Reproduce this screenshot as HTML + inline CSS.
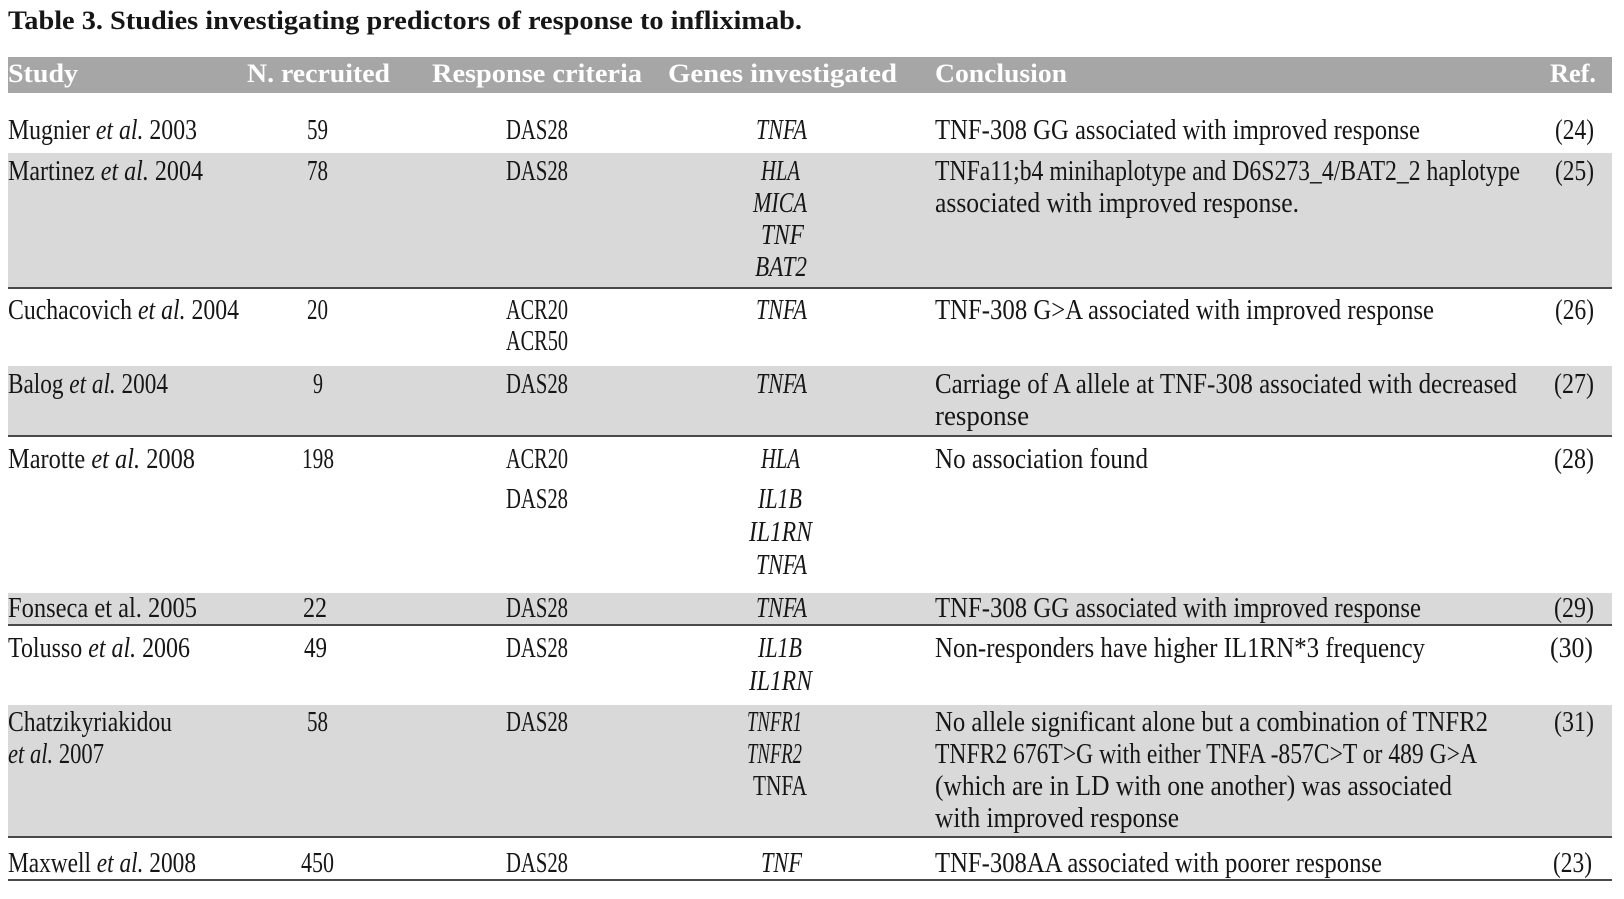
<!DOCTYPE html>
<html>
<head>
<meta charset="utf-8">
<style>
html,body{margin:0;padding:0;background:#fff;}
svg{display:block;}
text{font-family:"Liberation Serif",serif;font-size:28px;fill:#161616;}
.b{font-weight:bold;font-size:26px;}
.h{font-weight:bold;fill:#fff;font-size:26px;}
.i{font-style:italic;}
</style>
</head>
<body>
<svg width="1624" height="899" viewBox="0 0 1624 899" xmlns="http://www.w3.org/2000/svg">
<rect x="0" y="0" width="1624" height="899" fill="#fff"/>
<!-- Title -->
<text class="b" x="8" y="29" textLength="794" lengthAdjust="spacingAndGlyphs">Table 3. Studies investigating predictors of response to infliximab.</text>

<!-- Header bar -->
<rect x="8" y="57" width="1604" height="36" fill="#a6a6a6"/>
<text class="h" x="8" y="82" textLength="70" lengthAdjust="spacingAndGlyphs">Study</text>
<text class="h" x="247" y="82" textLength="143" lengthAdjust="spacingAndGlyphs">N. recruited</text>
<text class="h" x="432" y="82" textLength="210" lengthAdjust="spacingAndGlyphs">Response criteria</text>
<text class="h" x="668" y="82" textLength="229" lengthAdjust="spacingAndGlyphs">Genes investigated</text>
<text class="h" x="935" y="82" textLength="132" lengthAdjust="spacingAndGlyphs">Conclusion</text>
<text class="h" x="1550" y="82" textLength="46" lengthAdjust="spacingAndGlyphs">Ref.</text>

<!-- Bands -->
<rect x="8" y="153" width="1604" height="134" fill="#d9d9d9"/>
<rect x="8" y="366" width="1604" height="69" fill="#d9d9d9"/>
<rect x="8" y="593" width="1604" height="31" fill="#d9d9d9"/>
<rect x="8" y="705" width="1604" height="131" fill="#d9d9d9"/>

<!-- Lines -->
<rect x="8" y="287" width="1604" height="2" fill="#4a4a4a"/>
<rect x="8" y="435" width="1604" height="2" fill="#4a4a4a"/>
<rect x="8" y="624" width="1604" height="2" fill="#4a4a4a"/>
<rect x="8" y="836" width="1604" height="2" fill="#4a4a4a"/>
<rect x="8" y="879" width="1604" height="2" fill="#4a4a4a"/>

<!-- Row 1 -->
<text x="8" y="139" textLength="189" lengthAdjust="spacingAndGlyphs">Mugnier <tspan class="i">et al.</tspan> 2003</text>
<text x="307" y="139" textLength="21" lengthAdjust="spacingAndGlyphs">59</text>
<text x="506" y="139" textLength="62" lengthAdjust="spacingAndGlyphs">DAS28</text>
<text class="i" x="756" y="139" textLength="51" lengthAdjust="spacingAndGlyphs">TNFA</text>
<text x="935" y="139" textLength="485" lengthAdjust="spacingAndGlyphs">TNF-308 GG associated with improved response</text>
<text x="1555" y="139" textLength="39" lengthAdjust="spacingAndGlyphs">(24)</text>

<!-- Row 2 -->
<text x="8" y="180" textLength="195" lengthAdjust="spacingAndGlyphs">Martinez <tspan class="i">et al.</tspan> 2004</text>
<text x="307" y="180" textLength="21" lengthAdjust="spacingAndGlyphs">78</text>
<text x="506" y="180" textLength="62" lengthAdjust="spacingAndGlyphs">DAS28</text>
<text class="i" x="761" y="180" textLength="39" lengthAdjust="spacingAndGlyphs">HLA</text>
<text class="i" x="753" y="212" textLength="54" lengthAdjust="spacingAndGlyphs">MICA</text>
<text class="i" x="761" y="244" textLength="43" lengthAdjust="spacingAndGlyphs">TNF</text>
<text class="i" x="755" y="276" textLength="52" lengthAdjust="spacingAndGlyphs">BAT2</text>
<text x="935" y="180" textLength="585" lengthAdjust="spacingAndGlyphs">TNFa11;b4 minihaplotype and D6S273_4/BAT2_2 haplotype</text>
<text x="935" y="212" textLength="364" lengthAdjust="spacingAndGlyphs">associated with improved response.</text>
<text x="1555" y="180" textLength="39" lengthAdjust="spacingAndGlyphs">(25)</text>

<!-- Row 3 -->
<text x="8" y="319" textLength="231" lengthAdjust="spacingAndGlyphs">Cuchacovich <tspan class="i">et al.</tspan> 2004</text>
<text x="307" y="319" textLength="21" lengthAdjust="spacingAndGlyphs">20</text>
<text x="506" y="319" textLength="62" lengthAdjust="spacingAndGlyphs">ACR20</text>
<text x="506" y="350" textLength="62" lengthAdjust="spacingAndGlyphs">ACR50</text>
<text class="i" x="756" y="319" textLength="51" lengthAdjust="spacingAndGlyphs">TNFA</text>
<text x="935" y="319" textLength="499" lengthAdjust="spacingAndGlyphs">TNF-308 G&gt;A associated with improved response</text>
<text x="1555" y="319" textLength="39" lengthAdjust="spacingAndGlyphs">(26)</text>

<!-- Row 4 -->
<text x="8" y="393" textLength="160" lengthAdjust="spacingAndGlyphs">Balog <tspan class="i">et al.</tspan> 2004</text>
<text x="313" y="393" textLength="10" lengthAdjust="spacingAndGlyphs">9</text>
<text x="506" y="393" textLength="62" lengthAdjust="spacingAndGlyphs">DAS28</text>
<text class="i" x="756" y="393" textLength="51" lengthAdjust="spacingAndGlyphs">TNFA</text>
<text x="935" y="393" textLength="582" lengthAdjust="spacingAndGlyphs">Carriage of A allele at TNF-308 associated with decreased</text>
<text x="935" y="425" textLength="94" lengthAdjust="spacingAndGlyphs">response</text>
<text x="1554" y="393" textLength="40" lengthAdjust="spacingAndGlyphs">(27)</text>

<!-- Row 5 -->
<text x="8" y="468" textLength="187" lengthAdjust="spacingAndGlyphs">Marotte <tspan class="i">et al.</tspan> 2008</text>
<text x="302" y="468" textLength="32" lengthAdjust="spacingAndGlyphs">198</text>
<text x="506" y="468" textLength="62" lengthAdjust="spacingAndGlyphs">ACR20</text>
<text x="506" y="508" textLength="62" lengthAdjust="spacingAndGlyphs">DAS28</text>
<text class="i" x="761" y="468" textLength="39" lengthAdjust="spacingAndGlyphs">HLA</text>
<text class="i" x="758" y="508" textLength="44" lengthAdjust="spacingAndGlyphs">IL1B</text>
<text class="i" x="749" y="541" textLength="63" lengthAdjust="spacingAndGlyphs">IL1RN</text>
<text class="i" x="756" y="574" textLength="51" lengthAdjust="spacingAndGlyphs">TNFA</text>
<text x="935" y="468" textLength="213" lengthAdjust="spacingAndGlyphs">No association found</text>
<text x="1554" y="468" textLength="40" lengthAdjust="spacingAndGlyphs">(28)</text>

<!-- Row 6 -->
<text x="8" y="617" textLength="189" lengthAdjust="spacingAndGlyphs">Fonseca et al. 2005</text>
<text x="303" y="617" textLength="24" lengthAdjust="spacingAndGlyphs">22</text>
<text x="506" y="617" textLength="62" lengthAdjust="spacingAndGlyphs">DAS28</text>
<text class="i" x="756" y="617" textLength="51" lengthAdjust="spacingAndGlyphs">TNFA</text>
<text x="935" y="617" textLength="486" lengthAdjust="spacingAndGlyphs">TNF-308 GG associated with improved response</text>
<text x="1554" y="617" textLength="40" lengthAdjust="spacingAndGlyphs">(29)</text>

<!-- Row 7 -->
<text x="8" y="657" textLength="182" lengthAdjust="spacingAndGlyphs">Tolusso <tspan class="i">et al.</tspan> 2006</text>
<text x="304" y="657" textLength="23" lengthAdjust="spacingAndGlyphs">49</text>
<text x="506" y="657" textLength="62" lengthAdjust="spacingAndGlyphs">DAS28</text>
<text class="i" x="758" y="657" textLength="44" lengthAdjust="spacingAndGlyphs">IL1B</text>
<text class="i" x="749" y="690" textLength="63" lengthAdjust="spacingAndGlyphs">IL1RN</text>
<text x="935" y="657" textLength="490" lengthAdjust="spacingAndGlyphs">Non-responders have higher IL1RN*3 frequency</text>
<text x="1550" y="657" textLength="43" lengthAdjust="spacingAndGlyphs">(30)</text>

<!-- Row 8 -->
<text x="8" y="731" textLength="164" lengthAdjust="spacingAndGlyphs">Chatzikyriakidou</text>
<text x="8" y="763" textLength="96" lengthAdjust="spacingAndGlyphs"><tspan class="i">et al.</tspan> 2007</text>
<text x="307" y="731" textLength="21" lengthAdjust="spacingAndGlyphs">58</text>
<text x="506" y="731" textLength="62" lengthAdjust="spacingAndGlyphs">DAS28</text>
<text class="i" x="747" y="731" textLength="55" lengthAdjust="spacingAndGlyphs">TNFR1</text>
<text class="i" x="747" y="763" textLength="55" lengthAdjust="spacingAndGlyphs">TNFR2</text>
<text x="753" y="795" textLength="54" lengthAdjust="spacingAndGlyphs">TNFA</text>
<text x="935" y="731" textLength="553" lengthAdjust="spacingAndGlyphs">No allele significant alone but a  combination of TNFR2</text>
<text x="935" y="763" textLength="542" lengthAdjust="spacingAndGlyphs">TNFR2 676T&gt;G with either TNFA -857C&gt;T or 489 G&gt;A</text>
<text x="935" y="795" textLength="517" lengthAdjust="spacingAndGlyphs">(which are in LD with one another) was associated</text>
<text x="935" y="827" textLength="244" lengthAdjust="spacingAndGlyphs">with improved response</text>
<text x="1554" y="731" textLength="40" lengthAdjust="spacingAndGlyphs">(31)</text>

<!-- Row 9 -->
<text x="8" y="872" textLength="188" lengthAdjust="spacingAndGlyphs">Maxwell <tspan class="i">et al.</tspan> 2008</text>
<text x="301" y="872" textLength="33" lengthAdjust="spacingAndGlyphs">450</text>
<text x="506" y="872" textLength="62" lengthAdjust="spacingAndGlyphs">DAS28</text>
<text class="i" x="761" y="872" textLength="41" lengthAdjust="spacingAndGlyphs">TNF</text>
<text x="935" y="872" textLength="447" lengthAdjust="spacingAndGlyphs">TNF-308AA associated with poorer response</text>
<text x="1553" y="872" textLength="39" lengthAdjust="spacingAndGlyphs">(23)</text>
</svg>
</body>
</html>
